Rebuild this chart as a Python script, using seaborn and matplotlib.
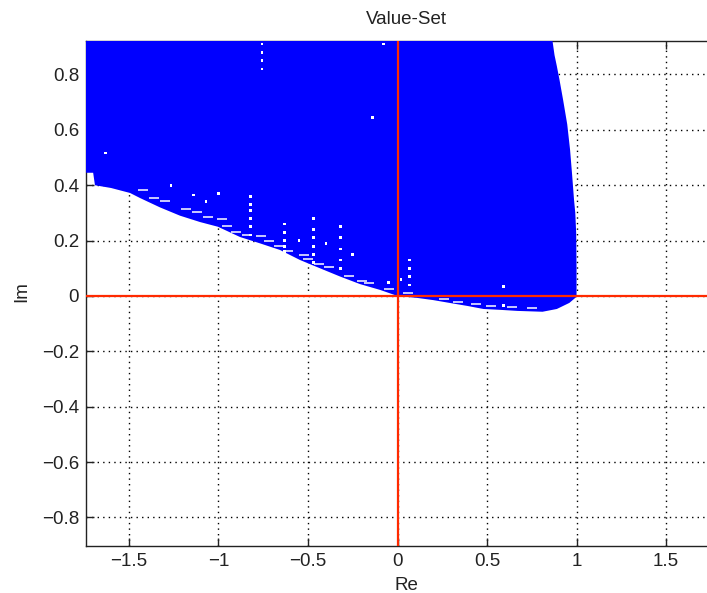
import numpy as np
import matplotlib
matplotlib.use("Agg")
import matplotlib.pyplot as plt
import seaborn as sns

# Lower edge of the value set (Re, Im), left to right
lower_re = [-1.80, -1.70, -1.69, -1.60, -1.494, -1.439, -1.327, -1.215, -1.103, -1.003,
            -0.88, -0.768, -0.656, -0.545, -0.433, -0.32, -0.21, -0.098, 0.0,
            0.11, 0.20, 0.29, 0.39, 0.48, 0.57, 0.67, 0.81, 0.89, 0.96, 1.0]
lower_im = [0.445, 0.445, 0.40, 0.39, 0.372, 0.354, 0.32, 0.29, 0.267, 0.25,
            0.213, 0.19, 0.166, 0.13, 0.10, 0.07, 0.043, 0.022, 0.0,
            -0.007, -0.015, -0.025, -0.036, -0.047, -0.05, -0.054, -0.057, -0.047, -0.025, -0.003]

# Right edge of the value set, bottom to top
right_re = [1.0, 1.0, 0.998, 0.993, 0.986, 0.975, 0.964, 0.948, 0.925, 0.905, 0.89, 0.877, 0.866, 0.86]
right_im = [0.0, 0.10, 0.227, 0.30, 0.347, 0.44, 0.527, 0.62, 0.708, 0.78, 0.83, 0.87, 0.92, 0.95]

# Unsampled gaps inside the set
speck_re = [-0.757, -0.757, -0.757, -0.757, -1.63, -1.265, -1.14, -1.07, -1.0,
            -0.82, -0.82, -0.82, -0.82, -0.82, -0.82,
            -0.63, -0.63, -0.63, -0.63, -0.63,
            -0.47, -0.47, -0.47, -0.47, -0.47, -0.47,
            -0.32, -0.32, -0.32, -0.32, -0.32,
            -0.08, -0.14, 0.065, 0.065, 0.065, 0.065,
            0.59, 0.59, 0.59, -0.40, -0.55, -0.25, 0.02, -0.05]
speck_im = [0.91, 0.88, 0.85, 0.82, 0.516, 0.40, 0.365, 0.34, 0.37,
            0.36, 0.33, 0.31, 0.28, 0.25, 0.22,
            0.26, 0.23, 0.20, 0.18, 0.16,
            0.28, 0.24, 0.21, 0.18, 0.15, 0.12,
            0.25, 0.21, 0.17, 0.13, 0.10,
            0.91, 0.645, 0.13, 0.10, 0.07, 0.04,
            0.035, 0.0, -0.035, 0.19, 0.20, 0.15, 0.06, 0.05]

# Short horizontal gaps along the jagged lower edge
gap_re = [-1.42, -1.30, -1.18, -1.06, -0.95, -0.84, -0.72, -0.61, -0.50, -0.38,
          -0.27, -0.16, -0.05, 0.16, 0.34, 0.52, 0.75, -0.98, -0.76, -0.52,
          -1.36, -1.12, -0.90, -0.66, -0.44, -0.20, 0.06, 0.26, 0.44, 0.64]
gap_im = [0.383, 0.343, 0.313, 0.287, 0.253, 0.222, 0.198, 0.163, 0.133, 0.103,
          0.072, 0.047, 0.025, 0.001, -0.020, -0.036, -0.044, 0.278, 0.218, 0.148,
          0.355, 0.305, 0.230, 0.180, 0.115, 0.055, 0.012, -0.010, -0.028, -0.040]

re_ticks = [-1.5, -1.0, -0.5, 0.0, 0.5, 1.0, 1.5]
re_labels = ["\u22121.5", "\u22121", "\u22120.5", "0", "0.5", "1", "1.5"]
im_ticks = [-0.8, -0.6, -0.4, -0.2, 0.0, 0.2, 0.4, 0.6, 0.8]
im_labels = ["\u22120.8", "\u22120.6", "\u22120.4", "\u22120.2", "0", "0.2", "0.4", "0.6", "0.8"]

sns.set_theme(style="ticks")
plt.rcParams["font.family"] = ["Liberation Sans", "DejaVu Sans"]

W, H = 707, 593
fig = plt.figure(figsize=(W / 100, H / 100), dpi=100)
fig.patch.set_facecolor("white")

x0_px, x1_px = 86.0, 725.5
y_top_px, y_bot_px = 40.7, 545.7
ax = fig.add_axes([x0_px / W, 1 - y_bot_px / H, (x1_px - x0_px) / W, (y_bot_px - y_top_px) / H])
ax.set_facecolor("white")
ax.set_xlim(-1.74, 1.832)
ax.set_ylim(-0.902, 0.922)

# Filled value set: top edge above the view, lower edge, then right edge
poly_re = [-1.80] + lower_re + right_re + [-1.80]
poly_im = [0.95] + lower_im + right_im + [0.95]
ax.fill(poly_re, poly_im, color="#0000ff", lw=0, zorder=3)

sns.scatterplot(x=speck_re, y=speck_im, ax=ax, marker="s", s=4, color="white",
                edgecolor="none", linewidth=0, zorder=4, legend=False)
sns.scatterplot(x=gap_re, y=gap_im, ax=ax, marker="_", s=45, color="white",
                linewidth=1.1, zorder=4, legend=False)

# Real and imaginary axes
ax.axvline(0, color="#ff2a00", lw=1.6, zorder=5)
ax.axhline(0, color="#ff2a00", lw=1.6, zorder=5)

ax.set_xticks(re_ticks)
ax.set_xticklabels(re_labels)
ax.set_yticks(im_ticks)
ax.set_yticklabels(im_labels)
ax.grid(True, color="black", linestyle=(0, (1.0, 3.0)), linewidth=1.0)
ax.set_axisbelow(True)

ax.tick_params(direction="in", length=6, width=1.0, color="#222222", labelsize=13.5,
               labelcolor="#222222", top=True, right=True, pad=5)
for side in ["left", "bottom", "top", "right"]:
    ax.spines[side].set_color("#222222")
    ax.spines[side].set_linewidth(1.0)

fig.text(406 / W, 1 - 20 / H, "Value-Set", ha="center", va="center", fontsize=13.5, color="#222222")
fig.text(406 / W, 1 - 585 / H, "Re", ha="center", va="center", fontsize=13.5, color="#222222")
fig.text(22 / W, 1 - 292 / H, "Im", ha="center", va="center", rotation=90, fontsize=13.5, color="#222222")

fig.savefig("out.png", dpi=100)
